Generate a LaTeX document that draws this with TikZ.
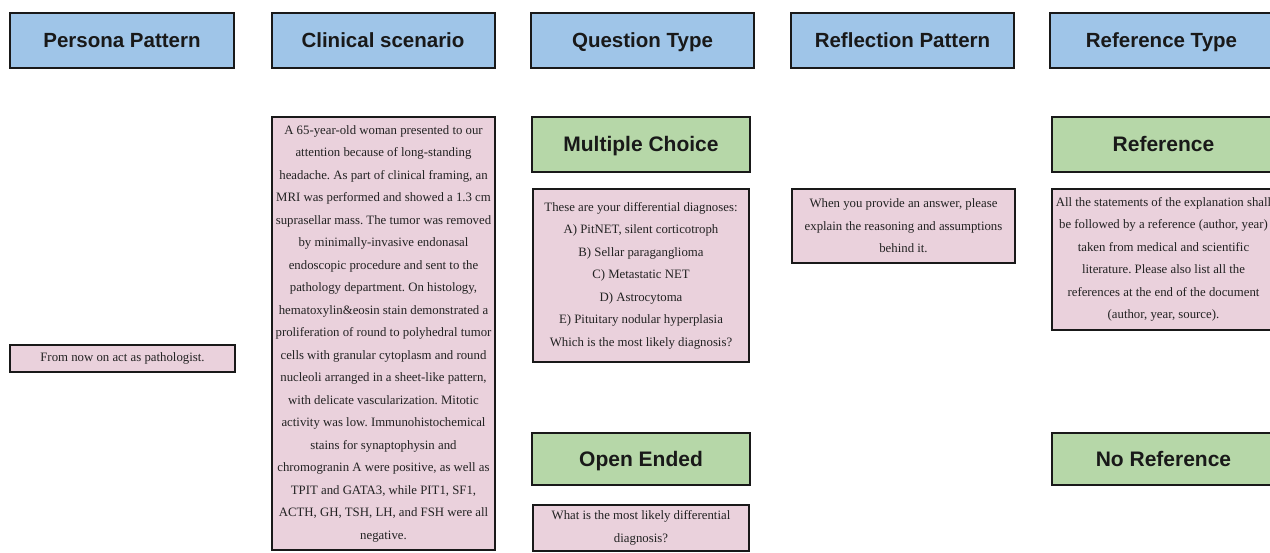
\documentclass[tikz,border=0pt]{standalone}
\usepackage{fontspec}
\setmainfont{Liberation Serif}
\newfontfamily\hdrfont{Liberation Sans}
\definecolor{hdrblue}{HTML}{9FC5E8}
\definecolor{optgreen}{HTML}{B6D7A8}
\definecolor{txtpink}{HTML}{EAD1DC}
\definecolor{inkgray}{HTML}{222222}
\frenchspacing
\tikzset{
  boxbase/.style={draw=black!90, line width=2pt, rectangle, inner sep=0pt},
  hdrbox/.style={boxbase, fill=hdrblue, font=\hdrfont\bfseries\fontsize{20.5}{24}\selectfont, text=black!90, text height=14.5pt, text depth=0pt},
  optbox/.style={boxbase, fill=optgreen, font=\hdrfont\bfseries\fontsize{21}{24}\selectfont, text=black!90, text height=14.5pt, text depth=0pt},
  txtbox/.style={boxbase, fill=txtpink, align=center, text=inkgray, font=\fontsize{12.8}{22.5}\selectfont},
}
\begin{document}
\begin{tikzpicture}[x=1pt,y=-1pt]
\useasboundingbox (0,0) rectangle (1270,552);
\clip (0,0) rectangle (1270,552);
\fill[white] (0,0) rectangle (1270,552);
% headers
\node[hdrbox, minimum width=224pt, minimum height=55pt] (hpersona) at (122,40) {Persona Pattern};
\node[hdrbox, minimum width=223pt, minimum height=55pt] (hclin) at (383,40) {Clinical scenario};
\node[hdrbox, minimum width=223pt, minimum height=55pt] (hquest) at (642.5,40) {Question Type};
\node[hdrbox, minimum width=223pt, minimum height=55pt] (hrefl) at (902.5,40) {Reflection Pattern};
\node[hdrbox, minimum width=223pt, minimum height=55pt] (hreft) at (1161.5,40) {Reference Type};
% persona
\node[txtbox, minimum width=225pt, minimum height=27pt] (persona) at (122.5,358.5) {From now on act as pathologist.};
% clinical
\node[txtbox, minimum width=223pt, minimum height=433pt] (clin) at (383.5,333.5) {A 65-year-old woman presented to our\\
attention because of long-standing\\
headache. As part of clinical framing, an\\
MRI was performed and showed a 1.3 cm\\
suprasellar mass. The tumor was removed\\
by minimally-invasive endonasal\\
endoscopic procedure and sent to the\\
pathology department. On histology,\\
hematoxylin\&eosin stain demonstrated a\\
proliferation of round to polyhedral tumor\\
cells with granular cytoplasm and round\\
nucleoli arranged in a sheet-like pattern,\\
with delicate vascularization. Mitotic\\
activity was low. Immunohistochemical\\
stains for synaptophysin and\\
chromogranin A were positive, as well as\\
TPIT and GATA3, while PIT1, SF1,\\
ACTH, GH, TSH, LH, and FSH were all\\
negative.};
% question type
\node[optbox, minimum width=218pt, minimum height=55pt] (mc) at (641,144.5) {Multiple Choice};
\node[txtbox, minimum width=216pt, minimum height=173pt] (mctxt) at (641,275.5) {These are your differential diagnoses:\\
A) PitNET, silent corticotroph\\
B) Sellar paraganglioma\\
C) Metastatic NET\\
D) Astrocytoma\\
E) Pituitary nodular hyperplasia\\
Which is the most likely diagnosis?};
\node[optbox, minimum width=218pt, minimum height=52pt] (oe) at (641,459) {Open Ended};
\node[txtbox, minimum width=216pt, minimum height=46pt] (oetxt) at (641,528) {What is the most likely differential\\
diagnosis?};
% reflection
\node[txtbox, minimum width=223pt, minimum height=74pt] (refl) at (903.5,226) {When you provide an answer, please\\
explain the reasoning and assumptions\\
behind it.};
% reference type
\node[optbox, minimum width=223pt, minimum height=55pt] (ref) at (1163.5,144.5) {Reference};
\node[txtbox, minimum width=223pt, minimum height=141pt] (reftxt) at (1163.5,259.5) {All the statements of the explanation shall\\
be followed by a reference (author, year)\\
taken from medical and scientific\\
literature. Please also list all the\\
references at the end of the document\\
(author, year, source).};
\node[optbox, minimum width=223pt, minimum height=52pt] (noref) at (1163.5,459) {No Reference};
\end{tikzpicture}
\end{document}
